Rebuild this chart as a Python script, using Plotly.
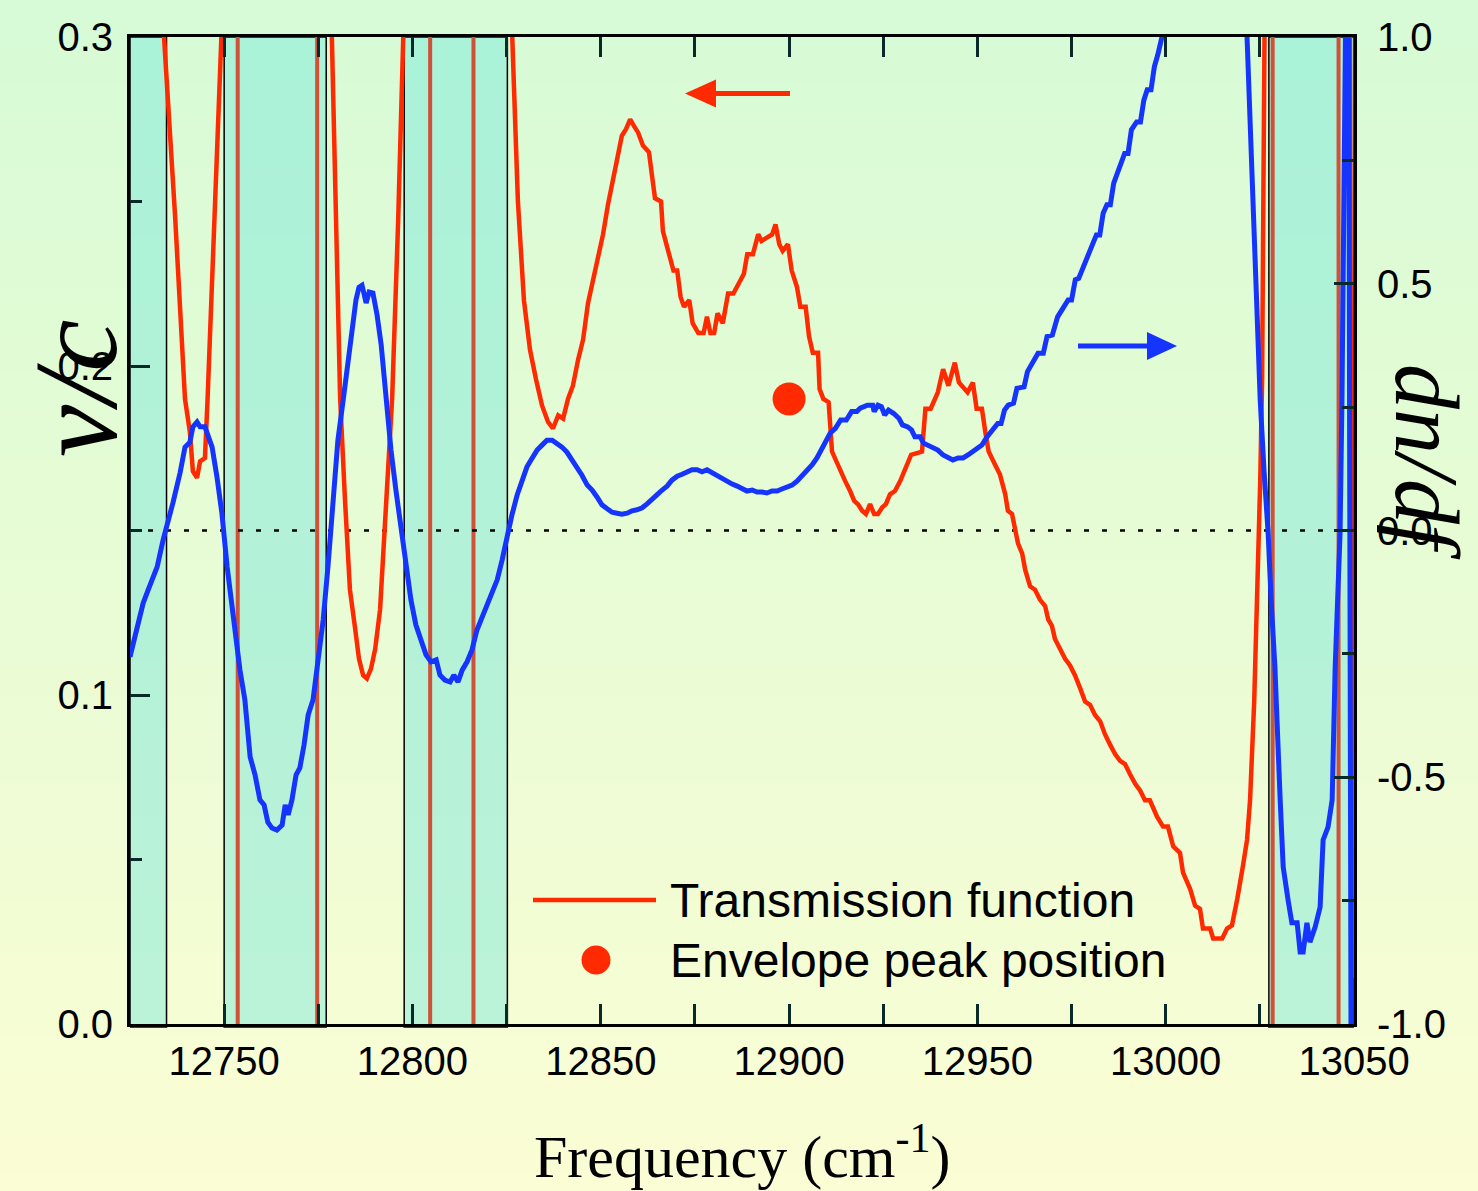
import plotly.graph_objects as go

# ---------------- data ----------------
# Transmission function (left axis, nu/c) vs frequency (cm^-1)
trans_freq = [
    12733.5, 12737.0, 12739.6, 12740.9, 12741.7, 12742.8, 12743.6, 12744.9, 12745.6, 12747.3, 12749.6,
    12778.4, 12780.8, 12782.1, 12783.4, 12784.8, 12785.8, 12786.9, 12787.9, 12789.0, 12790.1, 12791.4,
    12792.7, 12794.6, 12796.2, 12797.8,
    12826.2, 12828.0, 12829.6, 12831.2, 12832.8, 12834.4, 12836.0, 12837.3, 12838.7, 12840.0, 12841.3,
    12842.6, 12844.0, 12845.3, 12846.6, 12847.9, 12849.3, 12850.6, 12851.9, 12853.3, 12854.6, 12855.6,
    12856.7, 12857.8, 12858.8, 12859.9, 12861.2, 12862.8, 12863.7, 12864.4, 12866.0, 12866.5, 12867.9,
    12869.3, 12870.3, 12871.2, 12872.1, 12873.5, 12874.4, 12875.9, 12877.3, 12878.2, 12879.1, 12880.1,
    12881.0, 12882.4, 12883.8, 12885.2, 12886.6, 12888.0, 12888.9, 12890.4, 12891.8, 12892.7, 12894.1,
    12895.5, 12896.4, 12897.4, 12898.3, 12899.7, 12900.7, 12902.1, 12903.0, 12904.4, 12905.3, 12906.3,
    12907.7, 12908.1, 12909.1, 12910.5, 12911.4, 12912.5, 12913.5, 12914.9, 12916.2, 12917.3, 12918.3,
    12919.4, 12920.4, 12921.5, 12922.6, 12923.6, 12924.7, 12925.7, 12926.8, 12928.1, 12929.5, 12930.8,
    12932.4, 12935.3, 12936.2, 12937.6, 12939.5, 12940.9, 12942.3, 12944.0, 12945.1, 12947.4, 12948.8,
    12949.8, 12951.2, 12952.1, 12953.0, 12954.7, 12956.0, 12957.4, 12958.1, 12959.2, 12960.0, 12960.8,
    12961.9, 12962.7, 12964.0, 12965.3, 12966.6, 12968.0, 12968.8, 12969.8, 12970.6, 12972.0, 12973.3,
    12974.6, 12975.9, 12977.3, 12978.6, 12979.9, 12981.2, 12982.6, 12983.9, 12985.2, 12986.6, 12987.9,
    12989.2, 12990.5, 12991.9, 12993.2, 12994.5, 12995.8, 12997.7, 12999.3, 13000.6, 13002.0, 13003.8,
    13004.6, 13006.5, 13007.8, 13009.1, 13009.9, 13011.8, 13012.6, 13015.0, 13016.3, 13017.6, 13019.0,
    13019.7, 13020.5, 13021.6, 13022.4, 13023.5, 13024.3, 13025.1, 13025.6, 13025.9, 13026.3,
    13048.9, 13049.6, 13050.0,
]
trans_val = [
    0.310, 0.245, 0.190, 0.180, 0.168, 0.166, 0.171, 0.172, 0.190, 0.241, 0.310,
    0.310, 0.190, 0.159, 0.132, 0.120, 0.111, 0.106, 0.105, 0.108, 0.114, 0.126,
    0.150, 0.190, 0.244, 0.310,
    0.310, 0.250, 0.220, 0.205, 0.196, 0.188, 0.183, 0.181, 0.185, 0.184, 0.190,
    0.194, 0.202, 0.208, 0.219, 0.226, 0.232, 0.240, 0.249, 0.257, 0.264, 0.270,
    0.272, 0.275, 0.273, 0.271, 0.267, 0.265, 0.257, 0.251, 0.250, 0.241, 0.235,
    0.229, 0.229, 0.221, 0.218, 0.220, 0.213, 0.210, 0.210, 0.215, 0.210, 0.210,
    0.216, 0.213, 0.222, 0.222, 0.225, 0.228, 0.234, 0.234, 0.240, 0.238, 0.239,
    0.240, 0.243, 0.237, 0.235, 0.237, 0.229, 0.224, 0.218, 0.218, 0.209, 0.204,
    0.204, 0.193, 0.190, 0.189, 0.174, 0.171, 0.168, 0.165, 0.162, 0.159, 0.158,
    0.156, 0.155, 0.158, 0.155, 0.155, 0.157, 0.158, 0.161, 0.162, 0.165, 0.169,
    0.173, 0.174, 0.187, 0.187, 0.192, 0.199, 0.194, 0.201, 0.195, 0.192, 0.195,
    0.187, 0.187, 0.180, 0.174, 0.170, 0.167, 0.161, 0.156, 0.155, 0.150, 0.146,
    0.143, 0.138, 0.133, 0.132, 0.129, 0.127, 0.123, 0.121, 0.117, 0.114, 0.111,
    0.109, 0.106, 0.102, 0.098, 0.097, 0.094, 0.092, 0.088, 0.085, 0.082, 0.080,
    0.079, 0.076, 0.073, 0.071, 0.068, 0.068, 0.063, 0.060, 0.060, 0.054, 0.052,
    0.046, 0.041, 0.036, 0.035, 0.029, 0.029, 0.026, 0.026, 0.029, 0.030, 0.038,
    0.042, 0.048, 0.056, 0.068, 0.098, 0.129, 0.165, 0.196, 0.250, 0.310,
    0.310, 0.023, 0.014,
]

# dn/df (right axis) vs frequency (cm^-1)
dndf_freq = [
    12725.0, 12726.3, 12727.1, 12728.5, 12729.8, 12732.2, 12733.8, 12734.8, 12736.4, 12738.3, 12739.6,
    12740.9, 12741.7, 12742.8, 12743.6, 12744.9, 12746.8, 12748.1, 12749.4, 12750.8, 12751.6, 12752.9,
    12754.2, 12755.5, 12756.9, 12758.2, 12759.5, 12760.6, 12761.6, 12762.7, 12764.0, 12765.4, 12766.2,
    12767.0, 12768.0, 12769.1, 12770.1, 12771.2, 12772.3, 12773.6, 12774.9, 12776.3, 12777.6, 12778.9,
    12780.2, 12781.6, 12782.9, 12784.0, 12785.0, 12785.8, 12786.6, 12787.7, 12788.5, 12789.5, 12790.6,
    12791.7, 12793.0, 12794.3, 12795.6, 12797.0, 12798.3, 12799.6, 12800.9, 12802.3, 12803.6, 12804.9,
    12806.3, 12807.3, 12808.6, 12810.0, 12811.0, 12812.1, 12813.2, 12814.5, 12815.8, 12817.1, 12818.5,
    12819.8, 12821.1, 12822.5, 12823.8, 12825.1, 12826.4, 12827.8, 12829.1, 12830.4, 12831.8, 12833.1,
    12834.4, 12835.7, 12837.1, 12838.4, 12839.7, 12841.0, 12842.4, 12843.7, 12845.0, 12846.4, 12847.7,
    12849.0, 12850.3, 12851.7, 12853.0, 12854.3, 12855.6, 12857.0, 12858.3, 12859.6, 12861.0, 12862.3,
    12863.6, 12864.9, 12866.3, 12867.6, 12868.9, 12870.3, 12871.6, 12872.9, 12874.2, 12875.6, 12876.9,
    12878.2, 12879.5, 12880.9, 12882.2, 12883.5, 12884.9, 12886.2, 12887.5, 12888.8, 12890.2, 12891.5,
    12892.8, 12894.1, 12895.5, 12896.8, 12898.1, 12899.5, 12900.8, 12902.1, 12903.4, 12904.8, 12906.1,
    12907.4, 12908.6, 12910.9, 12912.3, 12913.7, 12915.2, 12916.1, 12916.6, 12918.0, 12918.9, 12920.8,
    12922.2, 12922.6, 12923.6, 12924.5, 12925.4, 12926.4, 12927.8, 12929.2, 12930.1, 12931.5, 12932.5,
    12933.4, 12934.8, 12935.7, 12937.6, 12939.5, 12940.9, 12942.2, 12943.5, 12944.9, 12946.2, 12947.5,
    12948.6, 12949.8, 12951.2, 12952.6, 12954.0, 12955.4, 12956.3, 12957.2, 12958.2, 12959.6, 12960.5,
    12961.5, 12962.4, 12963.3, 12964.7, 12966.1, 12967.5, 12968.5, 12969.9, 12971.3, 12972.7, 12974.1,
    12975.0, 12976.0, 12976.9, 12978.8, 12980.2, 12981.6, 12982.5, 12983.4, 12984.4, 12985.3, 12986.2,
    12987.6, 12989.1, 12990.0, 12990.9, 12992.3, 12993.3, 12994.2, 12995.1, 12996.1, 12997.0, 12997.9,
    12999.0, 12999.6, 13021.3, 13021.6, 13023.2, 13025.1, 13026.1, 13027.2, 13028.0, 13029.0, 13030.4,
    13031.2, 13032.5, 13033.5, 13034.9, 13035.7, 13036.5, 13037.5, 13038.3, 13039.7, 13041.0, 13041.8,
    13043.1, 13044.2, 13045.0, 13046.3, 13046.8, 13047.6, 13047.8, 13048.4, 13048.6, 13049.2, 13049.5,
]
dndf_val = [
    -0.256, -0.216, -0.182, -0.147, -0.121, -0.074, -0.019, 0.007, 0.056, 0.117, 0.169,
    0.179, 0.210, 0.220, 0.210, 0.210, 0.169, 0.108, 0.035, -0.074, -0.127, -0.208,
    -0.283, -0.343, -0.459, -0.495, -0.546, -0.556, -0.591, -0.603, -0.607, -0.597, -0.556,
    -0.576, -0.546, -0.495, -0.481, -0.435, -0.374, -0.343, -0.273, -0.181, -0.070, 0.052,
    0.183, 0.264, 0.345, 0.406, 0.467, 0.493, 0.497, 0.461, 0.483, 0.481, 0.437,
    0.376, 0.264, 0.163, 0.082, 0.001, -0.070, -0.141, -0.191, -0.222, -0.252, -0.266,
    -0.262, -0.293, -0.303, -0.307, -0.293, -0.307, -0.283, -0.266, -0.242, -0.202, -0.177,
    -0.151, -0.125, -0.100, -0.060, -0.013, 0.031, 0.072, 0.102, 0.129, 0.147, 0.163,
    0.173, 0.183, 0.183, 0.177, 0.169, 0.159, 0.143, 0.127, 0.112, 0.092, 0.082,
    0.068, 0.052, 0.044, 0.037, 0.035, 0.033, 0.035, 0.040, 0.042, 0.046, 0.054,
    0.062, 0.072, 0.082, 0.090, 0.102, 0.110, 0.114, 0.119, 0.123, 0.123, 0.119,
    0.123, 0.117, 0.112, 0.106, 0.100, 0.094, 0.090, 0.086, 0.080, 0.082, 0.078,
    0.078, 0.076, 0.080, 0.080, 0.084, 0.088, 0.092, 0.100, 0.110, 0.123, 0.133,
    0.147, 0.163, 0.197, 0.207, 0.224, 0.224, 0.234, 0.241, 0.241, 0.248, 0.254,
    0.254, 0.241, 0.254, 0.251, 0.234, 0.244, 0.237, 0.227, 0.214, 0.210, 0.204,
    0.190, 0.190, 0.177, 0.170, 0.163, 0.153, 0.147, 0.143, 0.147, 0.147, 0.153,
    0.159, 0.163, 0.173, 0.190, 0.204, 0.217, 0.217, 0.244, 0.254, 0.258, 0.288,
    0.291, 0.291, 0.322, 0.339, 0.359, 0.359, 0.393, 0.396, 0.433, 0.450, 0.467,
    0.467, 0.508, 0.511, 0.548, 0.575, 0.599, 0.599, 0.643, 0.660, 0.660, 0.704,
    0.734, 0.764, 0.764, 0.812, 0.828, 0.828, 0.872, 0.893, 0.893, 0.940, 0.964,
    1.000, 1.050, 1.050, 1.000, 0.629, 0.264, 0.123, -0.005, -0.141, -0.277, -0.546,
    -0.682, -0.749, -0.795, -0.795, -0.854, -0.854, -0.795, -0.834, -0.803, -0.763, -0.627,
    -0.601, -0.546, -0.277, -0.005, 0.264, 1.000, 1.050, 1.050, 1.000, -1.000, -1.050,
]

# Envelope peak position
peak_freq = [12900.0]
peak_val = [0.190]

# Shaded frequency windows and marker lines inside them
band_lo = [12725.0, 12750.0, 12797.8, 13027.4]
band_hi = [12734.7, 12777.1, 12825.2, 13050.0]
marker_freq = [12753.6, 12774.7, 12804.7, 12816.2, 13028.4, 13045.9]

# Axis ticks
x_ticks = [12750, 12800, 12850, 12900, 12950, 13000, 13050]
x_minor = [12775, 12825, 12875, 12925, 12975, 13025]
left_ticks = [0.0, 0.1, 0.2, 0.3]
left_labels = ["0.0", "0.1", "0.2", "0.3"]
left_minor = [0.05, 0.15, 0.25]
right_ticks = [-1.0, -0.5, 0.0, 0.5, 1.0]
right_labels = ["-1.0", "-0.5", "0.0", "0.5", "1.0"]
right_minor = [-0.75, -0.25, 0.25, 0.75]

# ---------------- layout geometry ----------------
W, H = 1478, 1191
ML, MR, MT, MB = 130, 124, 37, 167
PW, PH = W - ML - MR, H - MT - MB

def px_x(px):
    return (px - ML) / PW

def px_y(py):
    return (H - MB - py) / PH

RED = "#FF2A00"
BLUE = "#1535FF"
MARK = "#D05038"
TICK = "#0A2A2A"

shapes = []

# vertical green-to-yellow background gradient
top_rgb = (214, 251, 214)
bot_rgb = (251, 253, 212)
n_bands = 70
for i in range(n_bands):
    f = (i + 0.5) / n_bands
    c = tuple(round(top_rgb[k] + (bot_rgb[k] - top_rgb[k]) * f) for k in range(3))
    y0p = i * H / n_bands
    y1p = (i + 1) * H / n_bands + 1
    shapes.append(dict(type="rect", xref="paper", yref="paper",
                       x0=px_x(-2), x1=px_x(W + 2), y0=px_y(y1p), y1=px_y(y0p - 1),
                       fillcolor="rgb(%d,%d,%d)" % c, line=dict(width=0), layer="below"))

# shaded windows
for lo, hi in zip(band_lo, band_hi):
    shapes.append(dict(type="rect", xref="x", yref="paper", x0=lo, x1=hi, y0=-0.003, y1=1,
                       fillcolor="rgba(115,230,220,0.45)", line=dict(color="black", width=1.5),
                       layer="below"))

# marker lines
for fm in marker_freq:
    shapes.append(dict(type="line", xref="x", yref="paper", x0=fm, x1=fm, y0=0, y1=1,
                       line=dict(color=MARK, width=4), layer="below"))

# zero line of dn/df
shapes.append(dict(type="line", xref="paper", yref="y2", x0=0, x1=1, y0=0, y1=0,
                   line=dict(color="black", width=2.5, dash="5px,13px"), layer="below"))

# direction arrows
ay = px_y(93.5)
shapes.append(dict(type="line", xref="paper", yref="paper", x0=px_x(712), x1=px_x(790), y0=ay, y1=ay,
                   line=dict(color=RED, width=5)))
shapes.append(dict(type="path", xref="paper", yref="paper",
                   path="M %f %f L %f %f L %f %f Z" % (px_x(685), ay, px_x(716), px_y(79.5), px_x(716), px_y(107.5)),
                   fillcolor=RED, line=dict(width=0)))
by = px_y(346)
shapes.append(dict(type="line", xref="paper", yref="paper", x0=px_x(1078), x1=px_x(1150), y0=by, y1=by,
                   line=dict(color=BLUE, width=5)))
shapes.append(dict(type="path", xref="paper", yref="paper",
                   path="M %f %f L %f %f L %f %f Z" % (px_x(1177), by, px_x(1147), px_y(332), px_x(1147), px_y(360)),
                   fillcolor=BLUE, line=dict(width=0)))

# legend samples
ly1 = px_y(900)
ly2 = px_y(960)
shapes.append(dict(type="line", xref="paper", yref="paper", x0=px_x(533), x1=px_x(656), y0=ly1, y1=ly1,
                   line=dict(color=RED, width=4.5)))
shapes.append(dict(type="circle", xref="paper", yref="paper",
                   x0=px_x(596 - 14.5), x1=px_x(596 + 14.5), y0=px_y(960 + 14.5), y1=px_y(960 - 14.5),
                   fillcolor=RED, line=dict(width=0)))

fig = go.Figure()
fig.add_trace(go.Scatter(x=trans_freq, y=trans_val, mode="lines", yaxis="y",
                         line=dict(color=RED, width=4.5), showlegend=False, hoverinfo="skip"))
fig.add_trace(go.Scatter(x=dndf_freq, y=dndf_val, mode="lines", yaxis="y2",
                         line=dict(color=BLUE, width=5), showlegend=False, hoverinfo="skip"))
fig.add_trace(go.Scatter(x=peak_freq, y=peak_val, mode="markers", yaxis="y",
                         marker=dict(color=RED, size=33, line=dict(width=0)),
                         showlegend=False, hoverinfo="skip", cliponaxis=False))

tick_font = dict(family="Liberation Sans, Arial, sans-serif", size=40, color="black")
legend_font = dict(family="Liberation Sans, Arial, sans-serif", size=48, color="black")
serif = "Liberation Serif, Times New Roman, serif"

annotations = [
    dict(text="Transmission function", xref="paper", yref="paper", x=px_x(668), y=ly1,
         xanchor="left", yanchor="middle", showarrow=False, font=legend_font),
    dict(text="Envelope peak position", xref="paper", yref="paper", x=px_x(668), y=ly2,
         xanchor="left", yanchor="middle", showarrow=False, font=legend_font),
    dict(text="<i>ν/c</i>", xref="paper", yref="paper", x=px_x(76), y=px_y(388),
         xanchor="center", yanchor="middle", showarrow=False, textangle=-90,
         font=dict(family=serif, size=118, color="black")),
    dict(text="<i>dn/df</i>", xref="paper", yref="paper", x=px_x(1427), y=px_y(462),
         xanchor="center", yanchor="middle", showarrow=False, textangle=90,
         font=dict(family=serif, size=90, color="black")),
    dict(text="Frequency (cm<sup>-1</sup>)", xref="paper", yref="paper", x=px_x(742), y=px_y(1152),
         xanchor="center", yanchor="middle", showarrow=False,
         font=dict(family=serif, size=60, color="black")),
]

common_axis = dict(ticks="inside", ticklen=20, tickwidth=3, tickcolor=TICK,
                   showline=True, linecolor="black", linewidth=3,
                   showgrid=False, zeroline=False, tickfont=tick_font)

fig.update_layout(
    width=W, height=H, autosize=False,
    margin=dict(l=ML, r=MR, t=MT, b=MB, pad=0),
    paper_bgcolor="rgb(233,252,213)",
    plot_bgcolor="rgba(0,0,0,0)",
    showlegend=False,
    shapes=shapes,
    annotations=annotations,
    xaxis=dict(range=[12725, 13050], tickmode="array", tickvals=x_ticks,
               ticktext=[str(v) for v in x_ticks], mirror="allticks",
               minor=dict(tickmode="array", tickvals=x_minor, ticks="inside", ticklen=12,
                          tickwidth=3, tickcolor=TICK, showgrid=False),
               **common_axis),
    yaxis=dict(range=[0, 0.3], tickmode="array", tickvals=left_ticks, ticktext=left_labels,
               ticklabelstandoff=6,
               minor=dict(tickmode="array", tickvals=left_minor, ticks="inside", ticklen=12,
                          tickwidth=3, tickcolor=TICK, showgrid=False),
               **common_axis),
    yaxis2=dict(range=[-1, 1], overlaying="y", side="right", tickmode="array",
                tickvals=right_ticks, ticktext=right_labels, ticklabelstandoff=12,
                minor=dict(tickmode="array", tickvals=right_minor, ticks="inside", ticklen=12,
                           tickwidth=3, tickcolor=TICK, showgrid=False),
                **common_axis),
)

fig.write_html("out.html")
